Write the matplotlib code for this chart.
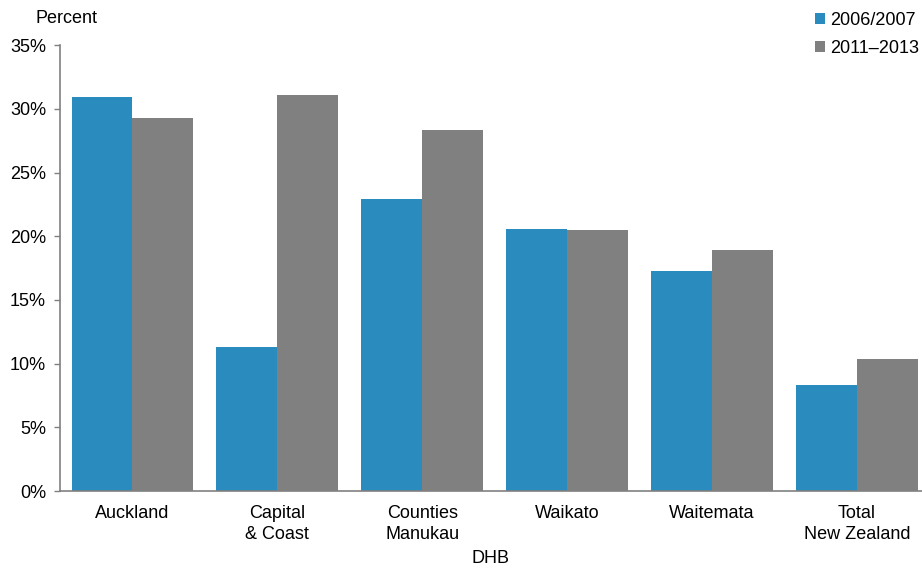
#!/usr/bin/env python

""" DHB percentages, 2006/2007 vs 2011-2013 """

import numpy as np
import matplotlib.pyplot as plt

dhbs = ["Auckland", "Capital\n& Coast", "Counties\nManukau", "Waikato",
        "Waitemata", "Total\nNew Zealand"]
pct_2006 = [30.9, 11.3, 22.9, 20.6, 17.3, 8.3]
pct_2011 = [29.3, 31.1, 28.3, 20.5, 18.9, 10.4]
series_labels = ["2006/2007", "2011\u20132013"]
yticks = [0, 5, 10, 15, 20, 25, 30, 35]


def main():
    plt.rcParams['font.family'] = ["Liberation Sans", "DejaVu Sans"]
    plt.rcParams['font.size'] = 13

    fig = plt.figure(figsize=(9.22, 5.71), dpi=100)
    ax = fig.add_axes([0.065, 0.14, 0.935, 0.781])

    x = np.arange(len(dhbs))
    w = 0.42
    blue = "#2a8bbe"
    grey = "#808080"
    b1 = ax.bar(x - w / 2, pct_2006, w, color=blue, label=series_labels[0])
    b2 = ax.bar(x + w / 2, pct_2011, w, color=grey, label=series_labels[1])

    ax.set_xlim(-0.5, 5.45)
    ax.set_ylim(0, 35)
    ax.set_yticks(yticks)
    ax.set_yticklabels(["%d%%" % v for v in yticks])
    ax.set_xticks(x)
    ax.set_xticklabels(dhbs, linespacing=1.3)
    ax.tick_params(axis="x", length=0, pad=10)
    ax.tick_params(axis="y", length=4, width=1, color="#808080",
                   direction="out", pad=6)

    for side in ["top", "right"]:
        ax.spines[side].set_visible(False)
    for side in ["left", "bottom"]:
        ax.spines[side].set_color("#808080")
        ax.spines[side].set_linewidth(1.2)

    ax.set_xlabel("DHB", labelpad=5)
    fig.text(0.038, 0.952, "Percent", ha="left", va="bottom")

    ax.legend(handles=[b1, b2], loc="upper right",
              bbox_to_anchor=(1.005, 1.09), frameon=False,
              handlelength=0.55, handleheight=0.55, handletextpad=0.3,
              labelspacing=0.6, borderaxespad=0)

    fig.savefig("out.png", dpi=100)


if __name__ == "__main__":
    main()
